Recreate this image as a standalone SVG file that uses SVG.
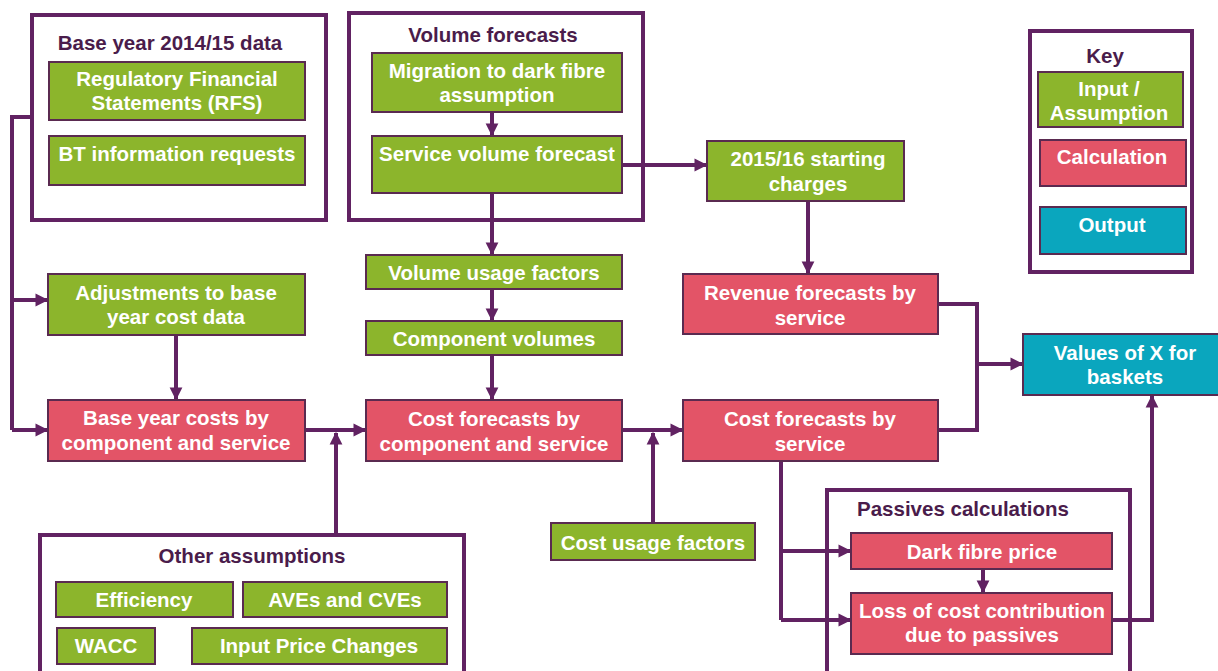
<svg xmlns="http://www.w3.org/2000/svg" width="1218" height="671" viewBox="0 0 1218 671">
<defs>
<marker id="ah" viewBox="0 0 10 10" refX="9" refY="5" markerWidth="3.2" markerHeight="3.4" orient="auto" markerUnits="strokeWidth">
<path d="M0,0 L10,5 L0,10 Z" fill="#612262"/>
</marker>
<style>
.grp{fill:#fff;stroke:#612262;stroke-width:4}
.in{fill:#8cb52c;stroke:#5a2a50;stroke-width:2}
.calc{fill:#e35467;stroke:#5a2a50;stroke-width:2}
.out{fill:#0aa6be;stroke:#5a2a50;stroke-width:2}
.t{font-family:"Liberation Sans",Arial,sans-serif;font-weight:bold;font-size:20.5px;fill:#fff;text-anchor:middle}
.gt{font-family:"Liberation Sans",Arial,sans-serif;font-weight:bold;font-size:20.5px;fill:#4a1c4b;text-anchor:middle}
.c{fill:none;stroke:#612262;stroke-width:4}
.ca{fill:none;stroke:#612262;stroke-width:4;marker-end:url(#ah)}
</style>
</defs>
<rect width="1218" height="671" fill="#fff"/>

<g id="base-year-group">
<rect class="grp" x="32" y="15" width="294" height="205"/>
<text class="gt" x="170" y="50">Base year 2014/15 data</text>
</g>
<g id="volume-group">
<rect class="grp" x="349" y="13" width="294" height="207"/>
<text class="gt" x="493" y="42">Volume forecasts</text>
</g>
<g id="key">
<rect class="grp" x="1030" y="31" width="162" height="241"/>
<text class="gt" x="1105" y="63">Key</text>
</g>
<g id="other-group">
<rect class="grp" x="40" y="535" width="424" height="140"/>
<text class="gt" x="252" y="563">Other assumptions</text>
</g>
<g id="passives-group">
<rect class="grp" x="827" y="490" width="303" height="185"/>
<text class="gt" x="963" y="516">Passives calculations</text>
</g>

<g id="connectors">
<path class="c" d="M32,117 H12 V430"/>
<path class="ca" d="M12,300 H47"/>
<path class="ca" d="M12,430 H47"/>
<path class="ca" d="M176,335 V399"/>
<path class="ca" d="M305,430 H365"/>
<path class="ca" d="M336,533 V433"/>
<path class="ca" d="M492,112 V135"/>
<path class="ca" d="M492,193 V254"/>
<path class="ca" d="M492,289 V320"/>
<path class="ca" d="M492,355 V399"/>
<path class="ca" d="M622,165 H706"/>
<path class="ca" d="M808,201 V273"/>
<path class="ca" d="M622,430 H682"/>
<path class="ca" d="M653,523 V433"/>
<path class="c" d="M938,304 H977 V430 H938"/>
<path class="ca" d="M977,364 H1022"/>
<path class="c" d="M781,461 V620"/>
<path class="ca" d="M781,551 H850"/>
<path class="ca" d="M781,620 H850"/>
<path class="ca" d="M983,569 V592"/>
<path class="ca" d="M1112,620 H1152 V396"/>
</g>

<g id="rfs">
<rect class="in" x="49" y="62" width="256" height="58"/>
<text class="t" x="177" y="86">Regulatory Financial</text>
<text class="t" x="177" y="110">Statements (RFS)</text>
</g>
<g id="bt-info">
<rect class="in" x="49" y="136" width="256" height="49"/>
<text class="t" x="177" y="161">BT information requests</text>
</g>
<g id="migration">
<rect class="in" x="372" y="53" width="250" height="59"/>
<text class="t" x="497" y="78">Migration to dark fibre</text>
<text class="t" x="497" y="102">assumption</text>
</g>
<g id="service-volume">
<rect class="in" x="372" y="136" width="250" height="57"/>
<text class="t" x="497" y="161">Service volume forecast</text>
</g>
<g id="starting-charges">
<rect class="in" x="707" y="141" width="197" height="60"/>
<text class="t" x="808" y="166">2015/16 starting</text>
<text class="t" x="808" y="191">charges</text>
</g>
<g id="key-input">
<rect class="in" x="1038" y="72" width="145" height="55"/>
<text class="t" x="1109" y="96">Input /</text>
<text class="t" x="1109" y="120">Assumption</text>
</g>
<g id="key-calc">
<rect class="calc" x="1040" y="140" width="146" height="46"/>
<text class="t" x="1112" y="164">Calculation</text>
</g>
<g id="key-output">
<rect class="out" x="1040" y="207" width="146" height="47"/>
<text class="t" x="1112" y="232">Output</text>
</g>
<g id="adjustments">
<rect class="in" x="48" y="274" width="257" height="61"/>
<text class="t" x="176" y="300">Adjustments to base</text>
<text class="t" x="176" y="324">year cost data</text>
</g>
<g id="base-year-costs">
<rect class="calc" x="48" y="400" width="257" height="61"/>
<text class="t" x="176" y="425">Base year costs by</text>
<text class="t" x="176" y="450">component and service</text>
</g>
<g id="volume-usage">
<rect class="in" x="366" y="255" width="256" height="34"/>
<text class="t" x="494" y="280">Volume usage factors</text>
</g>
<g id="component-volumes">
<rect class="in" x="366" y="321" width="256" height="34"/>
<text class="t" x="494" y="346">Component volumes</text>
</g>
<g id="cost-forecasts-component">
<rect class="calc" x="366" y="400" width="256" height="61"/>
<text class="t" x="494" y="426">Cost forecasts by</text>
<text class="t" x="494" y="451">component and service</text>
</g>
<g id="revenue-forecasts">
<rect class="calc" x="683" y="274" width="255" height="60"/>
<text class="t" x="810" y="300">Revenue forecasts by</text>
<text class="t" x="810" y="325">service</text>
</g>
<g id="cost-forecasts-service">
<rect class="calc" x="683" y="400" width="255" height="61"/>
<text class="t" x="810" y="426">Cost forecasts by</text>
<text class="t" x="810" y="451">service</text>
</g>
<g id="values-x">
<rect class="out" x="1023" y="334" width="198" height="61"/>
<text class="t" x="1125" y="360">Values of X for</text>
<text class="t" x="1125" y="384">baskets</text>
</g>
<g id="cost-usage">
<rect class="in" x="551" y="523" width="204" height="37"/>
<text class="t" x="653" y="550">Cost usage factors</text>
</g>
<g id="efficiency">
<rect class="in" x="56" y="582" width="177" height="35"/>
<text class="t" x="144" y="607">Efficiency</text>
</g>
<g id="aves">
<rect class="in" x="243" y="582" width="204" height="35"/>
<text class="t" x="345" y="607">AVEs and CVEs</text>
</g>
<g id="wacc">
<rect class="in" x="57" y="628" width="98" height="36"/>
<text class="t" x="106" y="653">WACC</text>
</g>
<g id="input-price">
<rect class="in" x="192" y="628" width="255" height="36"/>
<text class="t" x="319" y="653">Input Price Changes</text>
</g>
<g id="dark-fibre">
<rect class="calc" x="851" y="533" width="261" height="36"/>
<text class="t" x="982" y="559">Dark fibre price</text>
</g>
<g id="loss">
<rect class="calc" x="851" y="593" width="261" height="61"/>
<text class="t" x="982" y="618">Loss of cost contribution</text>
<text class="t" x="982" y="642">due to passives</text>
</g>
</svg>
